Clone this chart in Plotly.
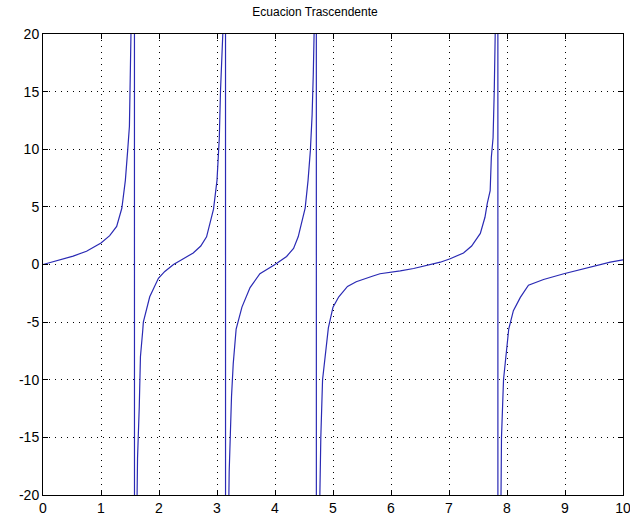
import plotly.graph_objects as go

title_text = "Ecuacion Trascendente"

x_vals = [0.0, 0.25, 0.52, 0.75, 1.0, 1.15, 1.27, 1.36, 1.42, 1.46, 1.49, 1.50, 1.515, 1.53,
          1.572, 1.582,
          1.62, 1.63, 1.66, 1.68, 1.72, 1.73, 1.84, 1.99, 2.1, 2.25, 2.42, 2.59, 2.72, 2.82,
          2.94, 3.0, 3.04, 3.06, 3.10, 3.12,
          3.142, 3.152,
          3.19, 3.21, 3.25, 3.28, 3.33, 3.43, 3.57, 3.74, 4.0, 4.2, 4.32, 4.40, 4.52, 4.57,
          4.61, 4.64, 4.66, 4.68, 4.69,
          4.708, 4.718,
          4.76, 4.77, 4.79, 4.82, 4.88, 4.92, 5.0, 5.1, 5.25, 5.4, 5.69, 5.81, 6.16, 6.39, 6.85,
          7.02, 7.25, 7.39, 7.54, 7.62, 7.66, 7.71, 7.73, 7.76, 7.78, 7.80, 7.81,
          7.838, 7.848,
          7.89, 7.90, 7.905, 7.94, 7.99, 8.03, 8.11, 8.23, 8.37, 8.63, 8.98, 9.38, 9.78, 10.0]

y_vals = [0.0, 0.33, 0.73, 1.15, 1.87, 2.5, 3.3, 4.9, 7.3, 9.9, 12.0, 15.0, 20.0, 24.0,
          400.0, -400.0,
          -21.0, -16.8, -12.3, -8.0, -5.7, -5.0, -2.8, -1.2, -0.6, 0.0, 0.5, 1.0, 1.6, 2.4,
          4.8, 7.3, 11.0, 15.0, 20.0, 26.0,
          400.0, -400.0,
          -26.0, -18.0, -11.5, -8.6, -5.6, -3.7, -2.0, -0.8, 0.0, 0.7, 1.4, 2.4, 4.9, 7.3,
          9.9, 13.0, 16.5, 20.0, 24.0,
          400.0, -400.0,
          -24.0, -20.0, -15.0, -10.0, -7.2, -5.5, -3.7, -2.8, -1.9, -1.5, -1.0, -0.8, -0.55, -0.35, 0.2,
          0.5, 1.0, 1.6, 2.7, 4.1, 5.3, 6.4, 9.3, 11.0, 15.0, 20.0, 24.0,
          400.0, -400.0,
          -24.0, -20.0, -15.0, -10.0, -7.7, -5.6, -4.0, -2.85, -1.8, -1.3, -0.8, -0.28, 0.2, 0.4]

x_ticks = [0, 1, 2, 3, 4, 5, 6, 7, 8, 9, 10]
y_ticks = [-20, -15, -10, -5, 0, 5, 10, 15, 20]

fig = go.Figure()
fig.add_trace(go.Scatter(x=x_vals, y=y_vals, mode="lines",
                         line=dict(color="#2a2ab4", width=1.2),
                         showlegend=False, hoverinfo="skip"))

axis_common = dict(
    showline=True, linecolor="black", linewidth=1, mirror="ticks",
    ticks="inside", ticklen=5, tickcolor="black", tickwidth=1,
    showgrid=True, gridcolor="black", gridwidth=1, griddash="1px,5px",
    zeroline=False, automargin=False, ticklabeloverflow="allow",
    tickfont=dict(family="Liberation Sans, Arial, sans-serif", size=14, color="black"),
)

fig.update_xaxes(range=[0, 10], tickvals=x_ticks, ticktext=[str(t) for t in x_ticks], **axis_common)
fig.update_yaxes(range=[-20, 20], tickvals=y_ticks, ticktext=[str(t) for t in y_ticks], **axis_common)

fig.update_layout(
    width=630, height=518,
    margin=dict(l=43, r=7, t=34, b=23),
    paper_bgcolor="white", plot_bgcolor="white",
    title=dict(text=title_text, x=0.5, xanchor="center", y=1 - 12 / 518, yanchor="middle",
               font=dict(family="Liberation Sans, Arial, sans-serif", size=12, color="black")),
)

fig.write_html("out.html", config={"displayModeBar": False},
               post_script="document.body.style.margin='0';document.body.style.overflow='hidden';")
